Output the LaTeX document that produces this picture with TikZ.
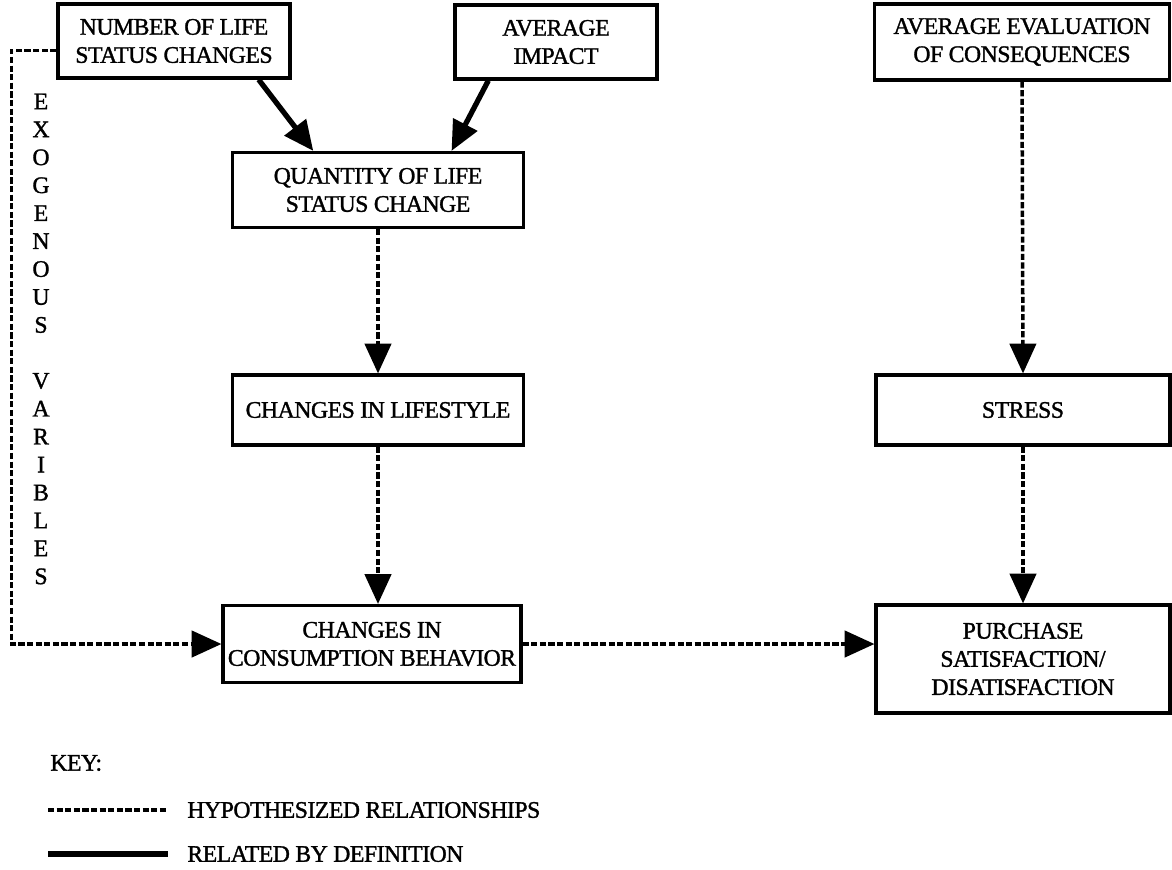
\documentclass[tikz,border=0pt]{standalone}
\usepackage{fontspec}
\setmainfont{Liberation Serif}
\newfontfamily\heavyserif[FakeBold=1.3,LetterSpace=-2]{Liberation Serif}
\usetikzlibrary{arrows.meta,calc}
\begin{document}
\begin{tikzpicture}[x=0.02cm,y=-0.02cm,
  box/.style={draw,line width=1.8pt,rectangle,align=center,inner sep=0pt,
    font=\heavyserif\fontsize{13.5}{16}\selectfont},
  defn/.style={line width=3pt,-{Triangle[length=17pt,width=15pt]}},
  hyp/.style={line width=2pt,dash pattern=on 3.5pt off 1.4pt,
    -{Triangle[length=17pt,width=15pt]}},
  keytext/.style={anchor=west,inner sep=0pt,font=\heavyserif\fontsize{13.5}{16}\selectfont}]
\useasboundingbox (0,0) rectangle (1172,869);

% boxes
\node[box,minimum width=4.64cm,minimum height=1.48cm] (num) at (174,41)
  {NUMBER OF LIFE\\STATUS CHANGES};
\node[box,minimum width=4.04cm,minimum height=1.48cm] (imp) at (556,42)
  {AVERAGE\\IMPACT};
\node[box,minimum width=5.9cm,minimum height=1.52cm] (eval) at (1022,42)
  {AVERAGE EVALUATION\\OF CONSEQUENCES};
\node[box,minimum width=5.82cm,minimum height=1.5cm] (qty) at (378,190)
  {QUANTITY OF LIFE\\STATUS CHANGE};
\node[box,minimum width=5.82cm,minimum height=1.4cm] (life) at (378,410)
  {CHANGES IN LIFESTYLE};
\node[box,minimum width=5.88cm,minimum height=1.4cm] (stress) at (1023,410)
  {STRESS};
\node[box,minimum width=5.96cm,minimum height=1.54cm] (cons) at (372,644)
  {CHANGES IN\\CONSUMPTION BEHAVIOR};
\node[box,minimum width=5.88cm,minimum height=2.16cm] (purch) at (1023,659)
  {PURCHASE\\SATISFACTION/\\DISATISFACTION};

% vertical label
\node[align=center,inner sep=0pt,font=\heavyserif\fontsize{13.5}{15.9}\selectfont] (exo) at (41,339)
  {E\\X\\O\\G\\E\\N\\O\\U\\S\\[15.9pt]V\\A\\R\\I\\B\\L\\E\\S};

% relationships by definition
\draw[defn] ($(num.south west)!0.86!(num.south east)$) -- ($(qty.north west)!0.28!(qty.north east)$);
\draw[defn] ($(imp.south west)!0.17!(imp.south east)$) -- ($(qty.north west)!0.75!(qty.north east)$);

% hypothesized relationships
\draw[hyp] (qty.south) -- (life.north);
\draw[hyp] (life.south) -- (life.south |- cons.north);
\draw[hyp] (eval.south) -- (stress.north);
\draw[hyp] (stress.south) -- (purch.north);
\draw[hyp] (cons.east) -- (cons.east -| purch.west);
\coordinate (exotop) at ($(num.north west)!0.62!(num.south west)$);
\draw[hyp] (exotop) -- ++(-45,0) |- (cons.west);

% key
\node[keytext] (key) at (50,763) {KEY:};
\coordinate (k1a) at (48,810);
\coordinate (k1b) at (168,810);
\coordinate (k2a) at (48,854);
\coordinate (k2b) at (168,854);
\draw[line width=2pt,dash pattern=on 3.5pt off 1.4pt] (k1a) -- (k1b);
\draw[line width=3pt] (k2a) -- (k2b);
\node[keytext] (khyp) at (187,810) {HYPOTHESIZED RELATIONSHIPS};
\node[keytext] (kdef) at (187,854) {RELATED BY DEFINITION};
\end{tikzpicture}
\end{document}
